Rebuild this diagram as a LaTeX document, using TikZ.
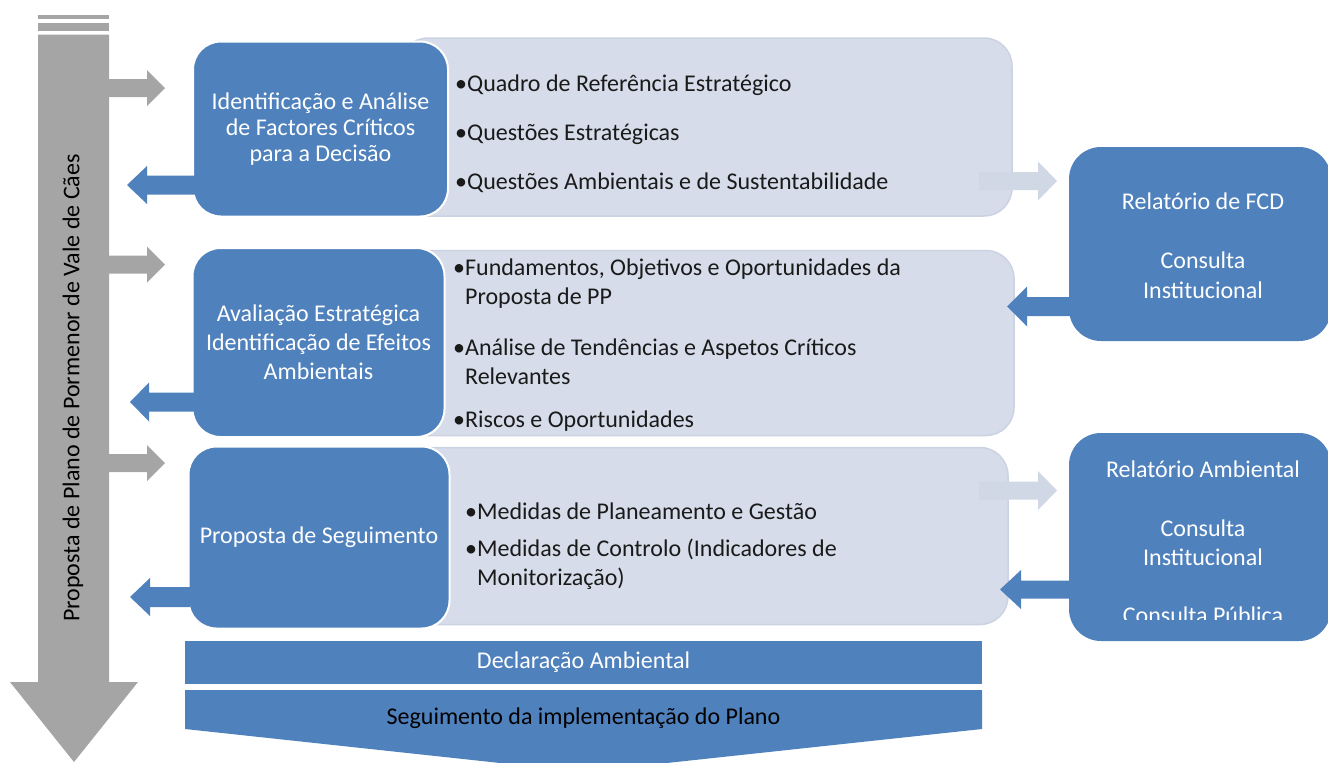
\documentclass[tikz,border=0pt]{standalone}
\usepackage{fontspec}
\setmainfont{Carlito}
\usetikzlibrary{calc}
\definecolor{blu}{HTML}{4F81BD}
\definecolor{gry}{HTML}{A5A5A5}
\definecolor{lite}{HTML}{D6DCE9}
\definecolor{liteedge}{HTML}{CBD2E2}
\definecolor{faint}{HTML}{D0D7E5}
\definecolor{ink}{HTML}{1A1A1A}
% block arrow: colour, start x, tip x, y, shaft half, head half, head length (signed)
\newcommand\harrow[7]{\fill[#1] (#2,{#4-#5}) -- ({#3-#7},{#4-#5}) -- ({#3-#7},{#4-#6}) -- (#3,#4) -- ({#3-#7},{#4+#6}) -- ({#3-#7},{#4+#5}) -- (#2,{#4+#5}) -- cycle;}
\tikzset{
  txt/.style={font=\fontsize{24}{29}\selectfont, inner sep=0pt},
  bluebox/.style={fill=blu, draw=white, line width=2pt, rounded corners=28pt, text=white, align=center, txt},
  litebox/.style={fill=lite, draw=liteedge, line width=1.5pt, rounded corners=28pt},
  rightbox/.style={fill=blu, draw=none, rounded corners=32pt},
  item/.style={txt, text=ink, align=left, anchor=west},
  rtxt/.style={txt, text=white, anchor=base},
  bar/.style={fill=blu, draw=none},
}
\begin{document}
\begin{tikzpicture}[x=1pt,y=-1pt]
\useasboundingbox (0,0) rectangle (1328,763);

% main gray arrow
\fill[gry] (38,15) rectangle (109,19);
\fill[gry] (38,22.7) rectangle (109,31);
\fill[gry] (38,34.7) -- (109,34.7) -- (109,682) -- (138,682) -- (74,762) -- (10,682) -- (38,682) -- cycle;
\node[txt, rotate=90, text=black] (plano) at (73,388) {Proposta de Plano de Pormenor de Vale de Cães};

% gray arrows to the right
\harrow{gry}{108}{165}{88}{9}{18}{18}
\harrow{gry}{108}{165}{264.5}{9}{18}{18}
\harrow{gry}{108}{165}{463}{9}{18}{18}

% light boxes
\node[litebox, minimum width=612pt, minimum height=178pt] (l1) at (706,127) {};
\node[litebox, minimum width=614pt, minimum height=185pt] (l2) at (707,343) {};
\node[litebox, minimum width=608pt, minimum height=177pt] (l3) at (704,536) {};

% blue boxes
\node[bluebox, minimum width=255pt, minimum height=175pt] (b1) at (320.5,129)
  {Identificação e Análise\\[-3pt]de Factores Críticos\\[-3pt]para a Decisão};
\node[bluebox, minimum width=252pt, minimum height=189pt] (b2) at (318.5,342.5)
  {Avaliação Estratégica\\Identificação de Efeitos\\Ambientais};
\node[bluebox, minimum width=261pt, minimum height=182pt] (b3) at (319,537.5)
  {\raisebox{-2pt}{Proposta de Seguimento}};

% blue arrows to the left
\harrow{blu}{195}{127}{185}{9.5}{19}{-20}
\harrow{blu}{195}{130}{402}{9.5}{19.5}{-19}
\harrow{blu}{190}{130}{597}{10}{19}{-20}

% items
\node[item] (i11) at (455,85) {•Quadro de Referência Estratégico};
\node[item] (i12) at (455,134) {•Questões Estratégicas};
\node[item] (i13) at (455,183) {•Questões Ambientais e de Sustentabilidade};
\node[item] (i21) at (453,284) {•Fundamentos, Objetivos e Oportunidades da\\\phantom{•}Proposta de PP};
\node[item] (i22) at (453,362) {•Análise de Tendências e Aspetos Críticos\\\phantom{•}Relevantes};
\node[item] (i23) at (453,421) {•Riscos e Oportunidades};
\node[item] (i31) at (465,511) {•Medidas de Planeamento e Gestão};
\node[item] (i32) at (465,564) {•Medidas de Controlo (Indicadores de\\\phantom{•}Monitorização)};

% right boxes
\node[rightbox, minimum width=262pt, minimum height=194pt] (r1) at (1200,244) {};
\node[rightbox, minimum width=262pt, minimum height=208pt] (r2) at (1200,537) {};
\node[rtxt] (r1a) at (1203,209) {Relatório de FCD};
\node[rtxt] (r1b) at (1203,268) {Consulta};
\node[rtxt] (r1c) at (1203,298) {Institucional};
\node[rtxt] (r2a) at (1203,477) {Relatório Ambiental};
\node[rtxt] (r2b) at (1203,536) {Consulta};
\node[rtxt] (r2c) at (1203,565) {Institucional};
\begin{scope}
\clip (1060,420) rectangle (1328,619);
\node[rtxt] (r2d) at (1203,623.5) {Consulta Pública};
\end{scope}

% arrows between light boxes and right boxes
\harrow{faint}{979}{1057}{181}{9}{19.5}{19}
\harrow{faint}{979}{1057}{490.5}{9}{19.5}{19}
\harrow{blu}{1070}{1007}{306.5}{9.5}{20}{-20}
\harrow{blu}{1070}{1000}{589.5}{9}{19.5}{-21}

% bottom bars
\node[bar, minimum width=797pt, minimum height=43pt, inner sep=0pt, txt, text=white] (decl) at (583.5,662.5) {\raisebox{-2.5pt}{Declaração Ambiental}};
\fill[blu] (185,690) -- (982,690) -- (982,729) -- (583.5,772) -- (185,729) -- cycle;
\node[txt, text=black] (seg) at (583.5,718) {Seguimento da implementação do Plano};
\end{tikzpicture}
\end{document}
